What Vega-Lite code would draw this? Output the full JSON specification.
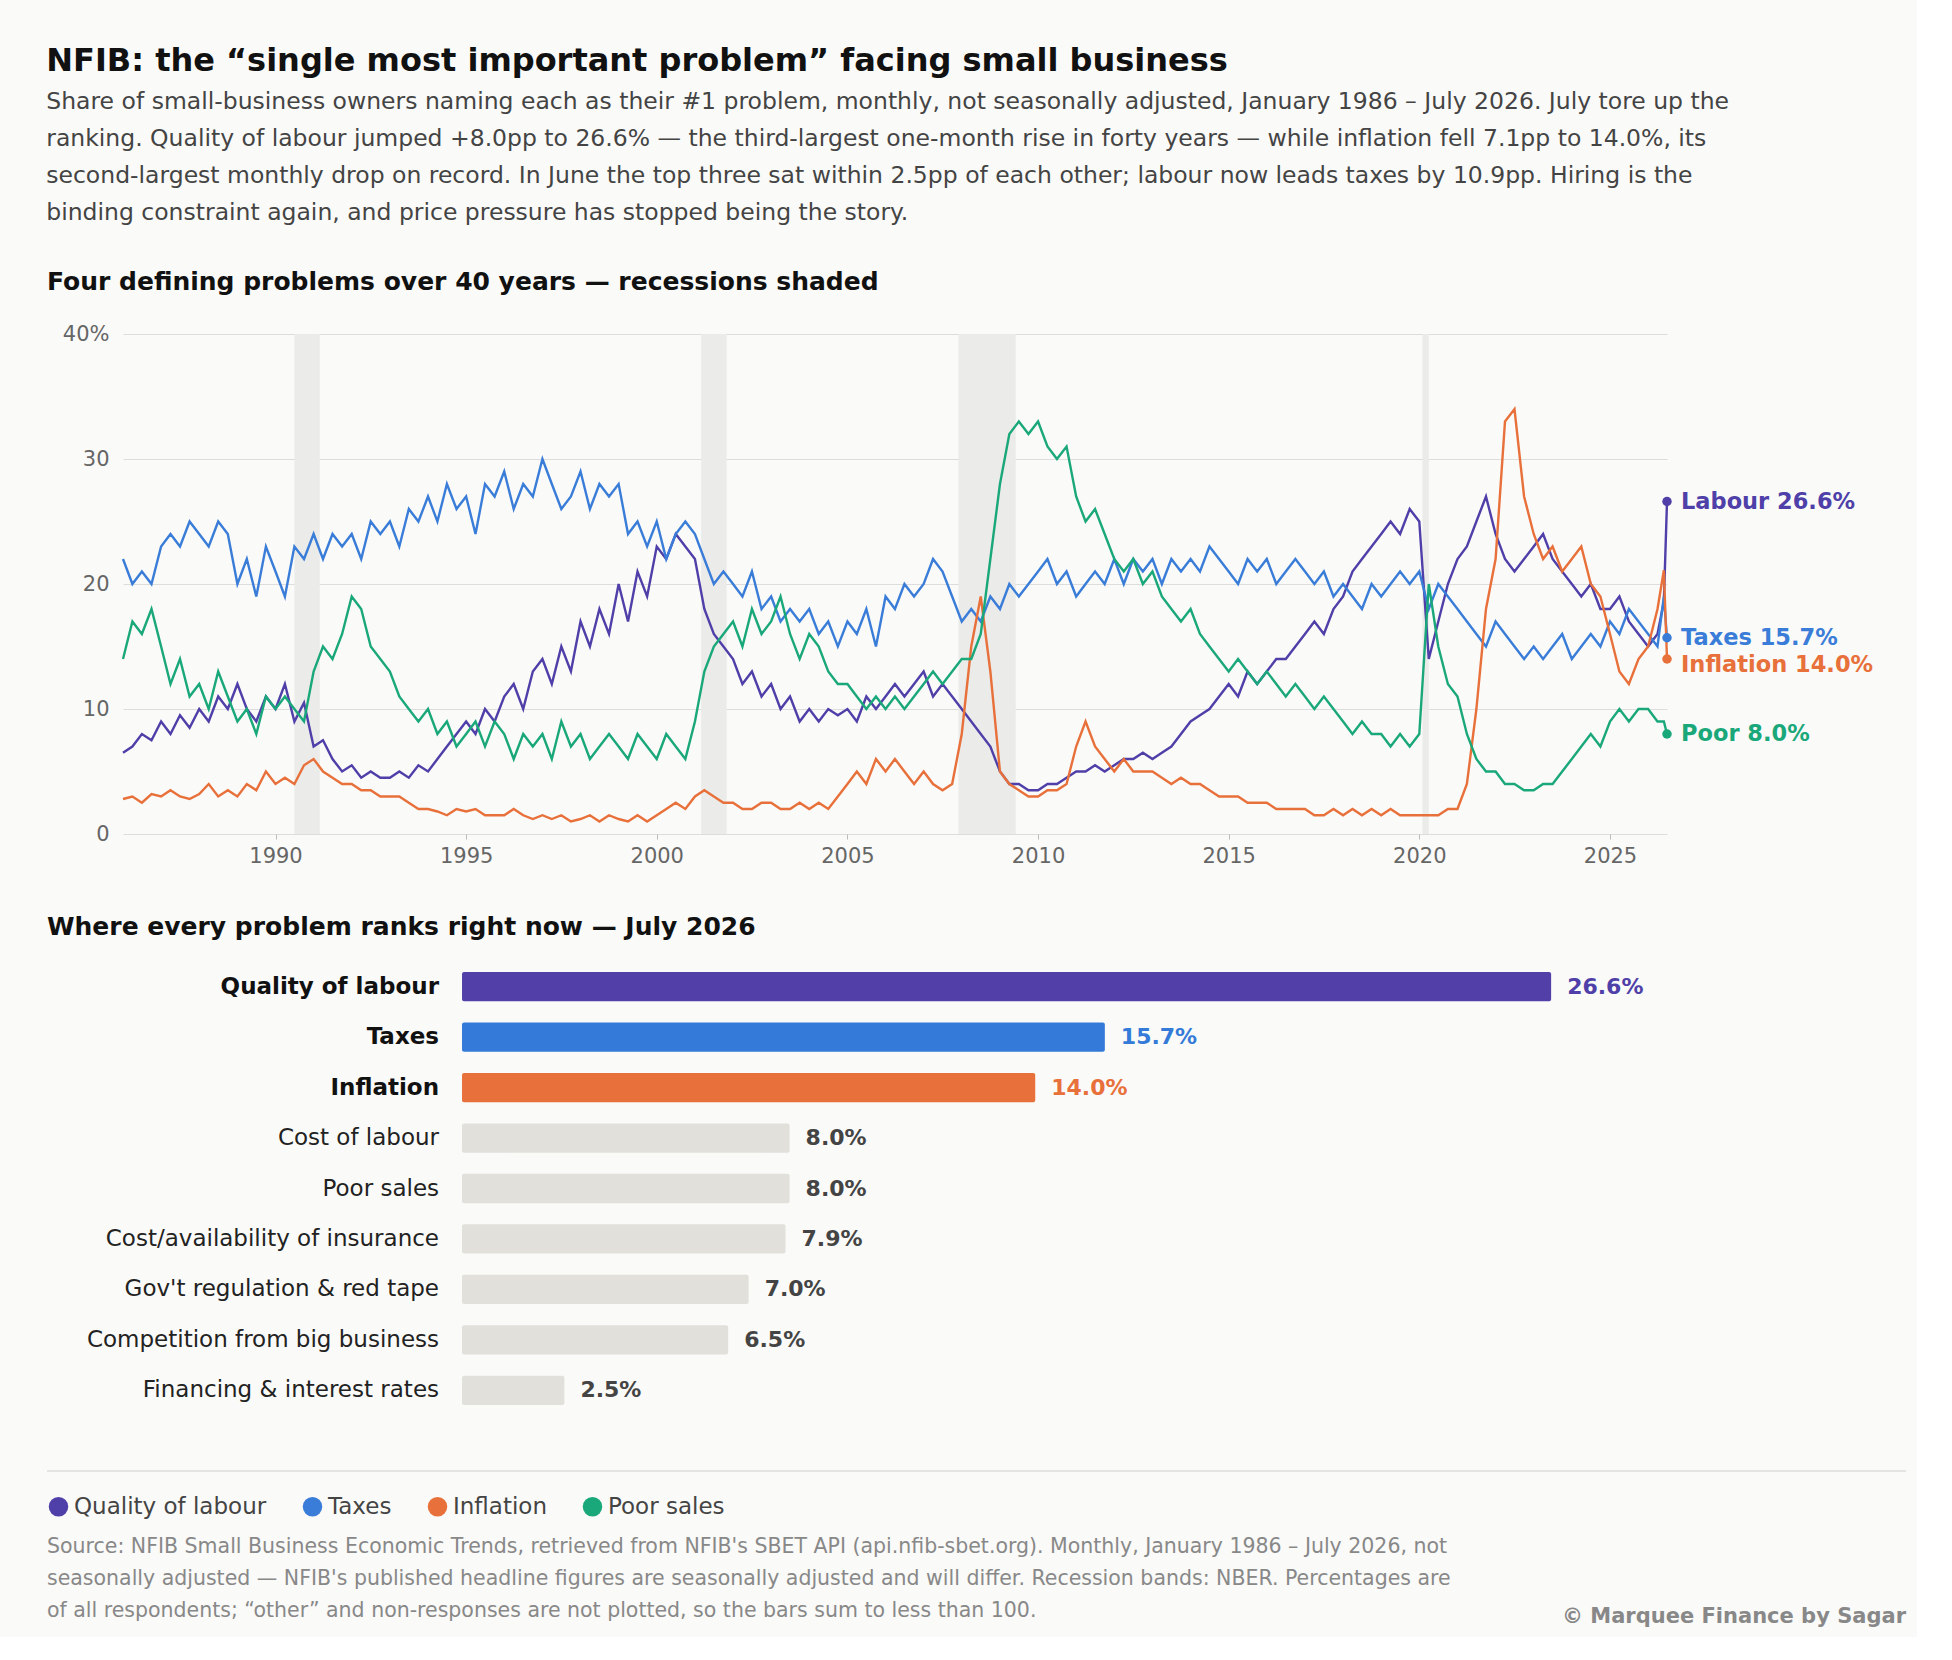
{
"$schema":"https://vega.github.io/schema/vega-lite/v6.json",
"background":"#fafaf8",
"padding":{"left":46,"top":44,"right":10,"bottom":10},
"title":{"text":"NFIB: the “single most important problem” facing small business","subtitle":["Share of small-business owners naming each as their #1 problem, monthly, not seasonally adjusted, January 1986 – July 2026. July tore up the","ranking. Quality of labour jumped +8.0pp to 26.6% — the third-largest one-month rise in forty years — while inflation fell 7.1pp to 14.0%, its","second-largest monthly drop on record. In June the top three sat within 2.5pp of each other; labour now leads taxes by 10.9pp. Hiring is the","binding constraint again, and price pressure has stopped being the story."],"anchor":"start","fontSize":32,"font":"DejaVu Sans","color":"#111","subtitleFont":"DejaVu Sans","subtitleFontSize":23.5,"subtitleColor":"#444","subtitleLineHeight":37,"subtitlePadding":12,"offset":45},
"config":{"view":{"stroke":null},"font":"DejaVu Sans","axis":{"labelFont":"DejaVu Sans","labelColor":"#666","labelFontSize":21}},
"datasets":{
"series":[
{"d":"1986-01","L":6.5,"T":22,"I":2.8,"P":14},{"d":"1986-04","L":7,"T":20,"I":3,"P":17},{"d":"1986-07","L":8,"T":21,"I":2.5,"P":16},{"d":"1986-10","L":7.5,"T":20,"I":3.2,"P":18},
{"d":"1987-01","L":9,"T":23,"I":3,"P":15},{"d":"1987-04","L":8,"T":24,"I":3.5,"P":12},{"d":"1987-07","L":9.5,"T":23,"I":3,"P":14},{"d":"1987-10","L":8.5,"T":25,"I":2.8,"P":11},
{"d":"1988-01","L":10,"T":24,"I":3.2,"P":12},{"d":"1988-04","L":9,"T":23,"I":4,"P":10},{"d":"1988-07","L":11,"T":25,"I":3,"P":13},{"d":"1988-10","L":10,"T":24,"I":3.5,"P":11},
{"d":"1989-01","L":12,"T":20,"I":3,"P":9},{"d":"1989-04","L":10,"T":22,"I":4,"P":10},{"d":"1989-07","L":9,"T":19,"I":3.5,"P":8},{"d":"1989-10","L":11,"T":23,"I":5,"P":11},
{"d":"1990-01","L":10,"T":21,"I":4,"P":10},{"d":"1990-04","L":12,"T":19,"I":4.5,"P":11},{"d":"1990-07","L":9,"T":23,"I":4,"P":10},{"d":"1990-10","L":10.5,"T":22,"I":5.5,"P":9},
{"d":"1991-01","L":7,"T":24,"I":6,"P":13},{"d":"1991-04","L":7.5,"T":22,"I":5,"P":15},{"d":"1991-07","L":6,"T":24,"I":4.5,"P":14},{"d":"1991-10","L":5,"T":23,"I":4,"P":16},
{"d":"1992-01","L":5.5,"T":24,"I":4,"P":19},{"d":"1992-04","L":4.5,"T":22,"I":3.5,"P":18},{"d":"1992-07","L":5,"T":25,"I":3.5,"P":15},{"d":"1992-10","L":4.5,"T":24,"I":3,"P":14},
{"d":"1993-01","L":4.5,"T":25,"I":3,"P":13},{"d":"1993-04","L":5,"T":23,"I":3,"P":11},{"d":"1993-07","L":4.5,"T":26,"I":2.5,"P":10},{"d":"1993-10","L":5.5,"T":25,"I":2,"P":9},
{"d":"1994-01","L":5,"T":27,"I":2,"P":10},{"d":"1994-04","L":6,"T":25,"I":1.8,"P":8},{"d":"1994-07","L":7,"T":28,"I":1.5,"P":9},{"d":"1994-10","L":8,"T":26,"I":2,"P":7},
{"d":"1995-01","L":9,"T":27,"I":1.8,"P":8},{"d":"1995-04","L":8,"T":24,"I":2,"P":9},{"d":"1995-07","L":10,"T":28,"I":1.5,"P":7},{"d":"1995-10","L":9,"T":27,"I":1.5,"P":9},
{"d":"1996-01","L":11,"T":29,"I":1.5,"P":8},{"d":"1996-04","L":12,"T":26,"I":2,"P":6},{"d":"1996-07","L":10,"T":28,"I":1.5,"P":8},{"d":"1996-10","L":13,"T":27,"I":1.2,"P":7},
{"d":"1997-01","L":14,"T":30,"I":1.5,"P":8},{"d":"1997-04","L":12,"T":28,"I":1.2,"P":6},{"d":"1997-07","L":15,"T":26,"I":1.5,"P":9},{"d":"1997-10","L":13,"T":27,"I":1,"P":7},
{"d":"1998-01","L":17,"T":29,"I":1.2,"P":8},{"d":"1998-04","L":15,"T":26,"I":1.5,"P":6},{"d":"1998-07","L":18,"T":28,"I":1,"P":7},{"d":"1998-10","L":16,"T":27,"I":1.5,"P":8},
{"d":"1999-01","L":20,"T":28,"I":1.2,"P":7},{"d":"1999-04","L":17,"T":24,"I":1,"P":6},{"d":"1999-07","L":21,"T":25,"I":1.5,"P":8},{"d":"1999-10","L":19,"T":23,"I":1,"P":7},
{"d":"2000-01","L":23,"T":25,"I":1.5,"P":6},{"d":"2000-04","L":22,"T":22,"I":2,"P":8},{"d":"2000-07","L":24,"T":24,"I":2.5,"P":7},{"d":"2000-10","L":23,"T":25,"I":2,"P":6},
{"d":"2001-01","L":22,"T":24,"I":3,"P":9},{"d":"2001-04","L":18,"T":22,"I":3.5,"P":13},{"d":"2001-07","L":16,"T":20,"I":3,"P":15},{"d":"2001-10","L":15,"T":21,"I":2.5,"P":16},
{"d":"2002-01","L":14,"T":20,"I":2.5,"P":17},{"d":"2002-04","L":12,"T":19,"I":2,"P":15},{"d":"2002-07","L":13,"T":21,"I":2,"P":18},{"d":"2002-10","L":11,"T":18,"I":2.5,"P":16},
{"d":"2003-01","L":12,"T":19,"I":2.5,"P":17},{"d":"2003-04","L":10,"T":17,"I":2,"P":19},{"d":"2003-07","L":11,"T":18,"I":2,"P":16},{"d":"2003-10","L":9,"T":17,"I":2.5,"P":14},
{"d":"2004-01","L":10,"T":18,"I":2,"P":16},{"d":"2004-04","L":9,"T":16,"I":2.5,"P":15},{"d":"2004-07","L":10,"T":17,"I":2,"P":13},{"d":"2004-10","L":9.5,"T":15,"I":3,"P":12},
{"d":"2005-01","L":10,"T":17,"I":4,"P":12},{"d":"2005-04","L":9,"T":16,"I":5,"P":11},{"d":"2005-07","L":11,"T":18,"I":4,"P":10},{"d":"2005-10","L":10,"T":15,"I":6,"P":11},
{"d":"2006-01","L":11,"T":19,"I":5,"P":10},{"d":"2006-04","L":12,"T":18,"I":6,"P":11},{"d":"2006-07","L":11,"T":20,"I":5,"P":10},{"d":"2006-10","L":12,"T":19,"I":4,"P":11},
{"d":"2007-01","L":13,"T":20,"I":5,"P":12},{"d":"2007-04","L":11,"T":22,"I":4,"P":13},{"d":"2007-07","L":12,"T":21,"I":3.5,"P":12},{"d":"2007-10","L":11,"T":19,"I":4,"P":13},
{"d":"2008-01","L":10,"T":17,"I":8,"P":14},{"d":"2008-04","L":9,"T":18,"I":15,"P":14},{"d":"2008-07","L":8,"T":17,"I":19,"P":16},{"d":"2008-10","L":7,"T":19,"I":13,"P":22},
{"d":"2009-01","L":5,"T":18,"I":5,"P":28},{"d":"2009-04","L":4,"T":20,"I":4,"P":32},{"d":"2009-07","L":4,"T":19,"I":3.5,"P":33},{"d":"2009-10","L":3.5,"T":20,"I":3,"P":32},
{"d":"2010-01","L":3.5,"T":21,"I":3,"P":33},{"d":"2010-04","L":4,"T":22,"I":3.5,"P":31},{"d":"2010-07","L":4,"T":20,"I":3.5,"P":30},{"d":"2010-10","L":4.5,"T":21,"I":4,"P":31},
{"d":"2011-01","L":5,"T":19,"I":7,"P":27},{"d":"2011-04","L":5,"T":20,"I":9,"P":25},{"d":"2011-07","L":5.5,"T":21,"I":7,"P":26},{"d":"2011-10","L":5,"T":20,"I":6,"P":24},
{"d":"2012-01","L":5.5,"T":22,"I":5,"P":22},{"d":"2012-04","L":6,"T":20,"I":6,"P":21},{"d":"2012-07","L":6,"T":22,"I":5,"P":22},{"d":"2012-10","L":6.5,"T":21,"I":5,"P":20},
{"d":"2013-01","L":6,"T":22,"I":5,"P":21},{"d":"2013-04","L":6.5,"T":20,"I":4.5,"P":19},{"d":"2013-07","L":7,"T":22,"I":4,"P":18},{"d":"2013-10","L":8,"T":21,"I":4.5,"P":17},
{"d":"2014-01","L":9,"T":22,"I":4,"P":18},{"d":"2014-04","L":9.5,"T":21,"I":4,"P":16},{"d":"2014-07","L":10,"T":23,"I":3.5,"P":15},{"d":"2014-10","L":11,"T":22,"I":3,"P":14},
{"d":"2015-01","L":12,"T":21,"I":3,"P":13},{"d":"2015-04","L":11,"T":20,"I":3,"P":14},{"d":"2015-07","L":13,"T":22,"I":2.5,"P":13},{"d":"2015-10","L":12,"T":21,"I":2.5,"P":12},
{"d":"2016-01","L":13,"T":22,"I":2.5,"P":13},{"d":"2016-04","L":14,"T":20,"I":2,"P":12},{"d":"2016-07","L":14,"T":21,"I":2,"P":11},{"d":"2016-10","L":15,"T":22,"I":2,"P":12},
{"d":"2017-01","L":16,"T":21,"I":2,"P":11},{"d":"2017-04","L":17,"T":20,"I":1.5,"P":10},{"d":"2017-07","L":16,"T":21,"I":1.5,"P":11},{"d":"2017-10","L":18,"T":19,"I":2,"P":10},
{"d":"2018-01","L":19,"T":20,"I":1.5,"P":9},{"d":"2018-04","L":21,"T":19,"I":2,"P":8},{"d":"2018-07","L":22,"T":18,"I":1.5,"P":9},{"d":"2018-10","L":23,"T":20,"I":2,"P":8},
{"d":"2019-01","L":24,"T":19,"I":1.5,"P":8},{"d":"2019-04","L":25,"T":20,"I":2,"P":7},{"d":"2019-07","L":24,"T":21,"I":1.5,"P":8},{"d":"2019-10","L":26,"T":20,"I":1.5,"P":7},
{"d":"2020-01","L":25,"T":21,"I":1.5,"P":8},{"d":"2020-04","L":14,"T":18,"I":1.5,"P":20},{"d":"2020-07","L":17,"T":20,"I":1.5,"P":15},{"d":"2020-10","L":20,"T":19,"I":2,"P":12},
{"d":"2021-01","L":22,"T":18,"I":2,"P":11},{"d":"2021-04","L":23,"T":17,"I":4,"P":8},{"d":"2021-07","L":25,"T":16,"I":10,"P":6},{"d":"2021-10","L":27,"T":15,"I":18,"P":5},
{"d":"2022-01","L":24,"T":17,"I":22,"P":5},{"d":"2022-04","L":22,"T":16,"I":33,"P":4},{"d":"2022-07","L":21,"T":15,"I":34,"P":4},{"d":"2022-10","L":22,"T":14,"I":27,"P":3.5},
{"d":"2023-01","L":23,"T":15,"I":24,"P":3.5},{"d":"2023-04","L":24,"T":14,"I":22,"P":4},{"d":"2023-07","L":22,"T":15,"I":23,"P":4},{"d":"2023-10","L":21,"T":16,"I":21,"P":5},
{"d":"2024-01","L":20,"T":14,"I":22,"P":6},{"d":"2024-04","L":19,"T":15,"I":23,"P":7},{"d":"2024-07","L":20,"T":16,"I":20,"P":8},{"d":"2024-10","L":18,"T":15,"I":19,"P":7},
{"d":"2025-01","L":18,"T":17,"I":16,"P":9},{"d":"2025-04","L":19,"T":16,"I":13,"P":10},{"d":"2025-07","L":17,"T":18,"I":12,"P":9},{"d":"2025-10","L":16,"T":17,"I":14,"P":10},
{"d":"2026-01","L":15,"T":16,"I":15,"P":10},{"d":"2026-04","L":16,"T":15,"I":18,"P":9},{"d":"2026-06","L":18.6,"T":19,"I":21.1,"P":9},{"d":"2026-07","L":26.6,"T":15.7,"I":14,"P":8}
],
"ends":[
{"k":"L","d":"2026-07","v":26.6,"ly":26.6,"t":"Labour 26.6%"},
{"k":"T","d":"2026-07","v":15.7,"ly":15.7,"t":"Taxes 15.7%"},
{"k":"I","d":"2026-07","v":14.0,"ly":13.5,"t":"Inflation 14.0%"},
{"k":"P","d":"2026-07","v":8.0,"ly":8.0,"t":"Poor 8.0%"}
],
"rec":[{"s":"1990-07","e":"1991-03"},{"s":"2001-03","e":"2001-11"},{"s":"2007-12","e":"2009-06"},{"s":"2020-02","e":"2020-04"}],
"bars":[
{"n":"Quality of labour","v":26.6,"lab":"26.6%","top":1},{"n":"Taxes","v":15.7,"lab":"15.7%","top":1},{"n":"Inflation","v":14.0,"lab":"14.0%","top":1},{"n":"Cost of labour","v":8.0,"lab":"8.0%","top":0},{"n":"Poor sales","v":8.0,"lab":"8.0%","top":0},{"n":"Cost/availability of insurance","v":7.9,"lab":"7.9%","top":0},{"n":"Gov't regulation & red tape","v":7.0,"lab":"7.0%","top":0},{"n":"Competition from big business","v":6.5,"lab":"6.5%","top":0},{"n":"Financing & interest rates","v":2.5,"lab":"2.5%","top":0}
],
"foot":[
{"i":1,"t":"Source: NFIB Small Business Economic Trends, retrieved from NFIB's SBET API (api.nfib-sbet.org). Monthly, January 1986 – July 2026, not"},
{"i":2,"t":"seasonally adjusted — NFIB's published headline figures are seasonally adjusted and will differ. Recession bands: NBER. Percentages are"},
{"i":3,"t":"of all respondents; “other” and non-responses are not plotted, so the bars sum to less than 100."}
]
},
"vconcat":[
{
"width":1544,"height":500,
"title":{"text":"Four defining problems over 40 years — recessions shaded","anchor":"start","frame":"group","dx":-76,"fontSize":25,"fontWeight":"bold","color":"#111","offset":28},
"layer":[
{"data":{"name":"rec"},"mark":{"type":"rect","color":"#ebebe9"},
 "encoding":{"x":{"field":"s","type":"temporal"},"x2":{"field":"e"}}},
{"data":{"name":"series"},"transform":[{"fold":["L","T","I","P"],"as":["k","v"]}],
 "mark":{"type":"line","strokeWidth":2.4},
 "encoding":{
  "x":{"field":"d","type":"temporal","scale":{"domain":["1986-01-01","2026-07-01"]},"axis":{"title":null,"format":"%Y","tickCount":{"interval":"year","step":5},"grid":false,"domain":false,"tickColor":"#bbb","labelPadding":6}},
  "y":{"field":"v","type":"quantitative","scale":{"domain":[0,40]},"axis":{"title":null,"values":[0,10,20,30,40],"labelExpr":"datum.value==40?'40%':datum.label","gridColor":"#dddddd","domain":false,"ticks":false,"labelPadding":14}},
  "color":{"field":"k","type":"nominal","scale":{"domain":["L","T","I","P"],"range":["#4f3fa8","#3a7dd8","#e8703a","#1aa87a"]},
   "legend":{"title":null,"orient":"none","legendX":-76,"legendY":1161,"direction":"horizontal","symbolType":"circle","symbolSize":380,"symbolStrokeWidth":0,"labelFontSize":23,"labelLimit":0,"labelColor":"#444","labelFont":"DejaVu Sans","columnPadding":34,"labelExpr":"{'L':'Quality of labour','T':'Taxes','I':'Inflation','P':'Poor sales'}[datum.value]"}}
 }},
{"data":{"name":"ends"},"mark":{"type":"circle","size":90,"opacity":1},
 "encoding":{"x":{"field":"d","type":"temporal"},"y":{"field":"v","type":"quantitative"},"color":{"field":"k","type":"nominal"}}},
{"data":{"name":"ends"},"mark":{"type":"text","align":"left","dx":14,"fontSize":22.5,"fontWeight":"bold"},
 "encoding":{"x":{"field":"d","type":"temporal"},"y":{"field":"ly","type":"quantitative"},"text":{"field":"t"},"color":{"field":"k","type":"nominal"}}}
]
},
{
"width":1544,"height":453,
"data":{"name":"bars"},
"title":{"text":"Where every problem ranks right now — July 2026","anchor":"start","frame":"group","dx":-76,"fontSize":25,"fontWeight":"bold","color":"#111","offset":22},
"encoding":{"y":{"field":"n","type":"nominal","sort":null,"axis":null,"scale":{"paddingInner":0.42,"paddingOuter":0.2}}},
"layer":[
{"mark":{"type":"bar","cornerRadius":2},
 "encoding":{"x":{"field":"v","type":"quantitative","scale":{"domain":[-8.28,29.43],"nice":false,"zero":false},"axis":null},"x2":{"datum":0},
  "color":{"field":"n","type":"nominal","legend":null,"scale":{"domain":["Quality of labour","Taxes","Inflation","Cost of labour","Poor sales","Cost/availability of insurance","Gov't regulation & red tape","Competition from big business","Financing & interest rates"],"range":["#5240a8","#347ad8","#e8703a","#e2e0da","#e2e0da","#e2e0da","#e2e0da","#e2e0da","#e2e0da"]}}}},
{"mark":{"type":"text","align":"left","dx":16,"fontSize":22,"fontWeight":"bold"},
 "encoding":{"x":{"field":"v","type":"quantitative"},"text":{"field":"lab"},
  "color":{"field":"n","type":"nominal","scale":{"domain":["Quality of labour","Taxes","Inflation","Cost of labour","Poor sales","Cost/availability of insurance","Gov't regulation & red tape","Competition from big business","Financing & interest rates"],"range":["#4f3fa8","#347ad8","#e8703a","#444","#444","#444","#444","#444","#444"]},"legend":null}}},
{"transform":[{"filter":"datum.top==1"}],"mark":{"type":"text","align":"right","dx":-23,"fontSize":23,"fontWeight":"bold","color":"#111"},
 "encoding":{"x":{"datum":0},"text":{"field":"n"}}},
{"transform":[{"filter":"datum.top==0"}],"mark":{"type":"text","align":"right","dx":-23,"fontSize":23,"fontWeight":"normal","color":"#222"},
 "encoding":{"x":{"datum":0},"text":{"field":"n"}}}
],
"resolve":{"scale":{"color":"independent"}}
},
{
"width":1544,"height":1,
"layer":[
{"data":{"values":[{"a":1}]},"mark":{"type":"rule","color":"#dddddd","strokeWidth":1.5},
 "encoding":{"x":{"value":-76},"x2":{"value":1783},"y":{"value":7}}},
{"data":{"name":"foot"},"mark":{"type":"text","align":"left","fontSize":20.5,"color":"#888"},
 "encoding":{"text":{"field":"t"},"x":{"value":-76},"y":{"field":"i","type":"ordinal","axis":null,"scale":{"type":"point","range":[83,147],"padding":0}}}},
{"data":{"values":[{"t":"© Marquee Finance by Sagar"}]},
 "mark":{"type":"text","align":"right","fontSize":21,"fontWeight":"bold","color":"#888"},
 "encoding":{"text":{"field":"t"},"x":{"value":1783},"y":{"value":153}}}
]
}
],
"spacing":49
}
